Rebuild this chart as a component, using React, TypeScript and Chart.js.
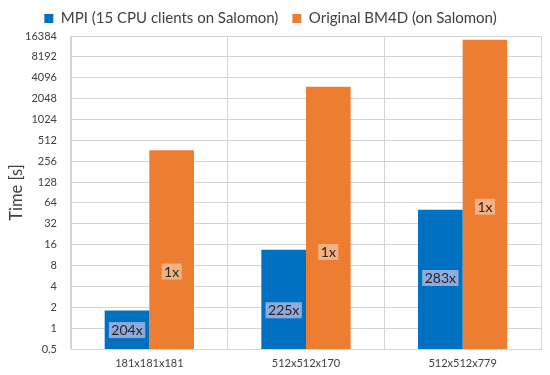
import React, { useEffect, useRef } from "react";
import { Chart, registerables } from "chart.js";

Chart.register(...registerables);

const categories = ["181x181x181", "512x512x170", "512x512x779"];
const seriesNames = ["MPI (15 CPU clients on Salomon)", "Original BM4D (on Salomon)"];
const mpiTimes = [1.8, 13.5, 51];
const originalTimes = [367, 3040, 14430];
const mpiSpeedups = ["204x", "225x", "283x"];
const originalSpeedups = ["1x", "1x", "1x"];
const yTickValues = [0.5, 1, 2, 4, 8, 16, 32, 64, 128, 256, 512, 1024, 2048, 4096, 8192, 16384];

const FONT = "Lato";

const labelPlugin = {
  id: "barLabels",
  afterDatasetsDraw(chart: any) {
    const ctx = chart.ctx;
    const fractions = [
      [0.49, 0.39, 0.51],
      [0.39, 0.37, 0.46],
    ];
    const texts = [mpiSpeedups, originalSpeedups];
    const fills = ["#8faadc", "#f4b183"];
    ctx.save();
    chart.data.datasets.forEach((_ds: any, di: number) => {
      const meta = chart.getDatasetMeta(di);
      meta.data.forEach((bar: any, i: number) => {
        const { x, y, base } = bar.getProps(["x", "y", "base"], true);
        const cy = base + (y - base) * fractions[di][i];
        const t = texts[di][i];
        ctx.font = `14px ${FONT}`;
        const w = ctx.measureText(t).width + 5;
        const h = 16;
        ctx.fillStyle = fills[di];
        ctx.fillRect(x - w / 2, cy - h / 2, w, h);
        ctx.fillStyle = "#262626";
        ctx.textAlign = "center";
        ctx.textBaseline = "middle";
        ctx.fillText(t, x, cy + 0.5);
      });
    });
    ctx.restore();
  },
};

export default function App() {
  const ref = useRef<HTMLCanvasElement | null>(null);
  useEffect(() => {
    if (!ref.current) return;
    const chart = new Chart(ref.current, {
      type: "bar",
      data: {
        labels: categories,
        datasets: [
          {
            label: seriesNames[0],
            data: mpiTimes,
            backgroundColor: "#0070c0",
            borderWidth: 0,
            barPercentage: 1,
            categoryPercentage: 0.57,
          },
          {
            label: seriesNames[1],
            data: originalTimes,
            backgroundColor: "#ed7d31",
            borderWidth: 0,
            barPercentage: 1,
            categoryPercentage: 0.57,
          },
        ],
      },
      options: {
        responsive: false,
        animation: false,
        layout: { padding: { top: -3, right: 9, bottom: 0, left: 0 } },
        plugins: {
          legend: {
            position: "top",
            labels: {
              boxWidth: 9,
              boxHeight: 9,
              padding: 14,
              color: "#404040",
              font: { family: FONT, size: 15 },
            },
          },
          tooltip: { enabled: false },
        },
        scales: {
          x: {
            type: "category",
            grid: { color: "#d4d4d4", drawTicks: false, offset: true },
            border: { color: "#d4d4d4" },
            ticks: { color: "#404040", font: { family: FONT, size: 11 }, padding: 8 },
            afterFit: (s: any) => {
              s.height = 26;
            },
          },
          y: {
            type: "logarithmic",
            min: 0.5,
            max: 16384,
            grid: { color: "#d4d4d4", drawTicks: false },
            border: { color: "#d4d4d4" },
            ticks: {
              color: "#404040",
              font: { family: FONT, size: 11 },
              padding: 14,
              autoSkip: false,
              callback: (v: any) => String(v),
            },
            afterBuildTicks: (s: any) => {
              s.ticks = yTickValues.map((v) => ({ value: v }));
            },
            afterFit: (s: any) => {
              s.width = 71;
            },
            title: {
              display: true,
              text: "Time [s]",
              color: "#404040",
              font: { family: FONT, size: 16.5 },
              padding: { top: 7, bottom: 0 },
            },
          },
        },
      },
      plugins: [labelPlugin],
    });
    return () => chart.destroy();
  }, []);
  return (
    <div style={{ position: "fixed", left: 0, top: 0, width: 550, height: 375, background: "#fff" }}>
      <canvas ref={ref} width={550} height={375} />
    </div>
  );
}
